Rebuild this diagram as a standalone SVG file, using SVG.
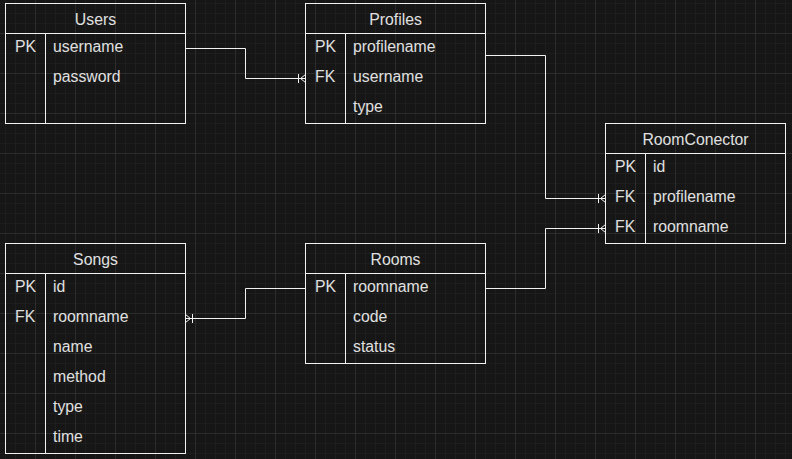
<svg xmlns="http://www.w3.org/2000/svg" width="792" height="459" viewBox="0 0 792 459">
<defs>
<pattern id="grid" x="35" y="33" width="40" height="40" patternUnits="userSpaceOnUse">
<path d="M10.5 0V40M20.5 0V40M30.5 0V40M0 10.5H40M0 20.5H40M0 30.5H40" stroke="#1e1e1e" stroke-width="1" fill="none"/>
<path d="M0.5 0V40M0 0.5H40" stroke="#2c2c2c" stroke-width="1" fill="none"/>
</pattern>
<marker id="many" viewBox="0 0 10 12" markerWidth="10" markerHeight="12" refX="10" refY="6" orient="auto" markerUnits="userSpaceOnUse" overflow="visible">
<path d="M3 1.5V10.5M5 6L10 2M5 6L10 10M5 6H10" stroke="#f2f2f2" stroke-width="1" fill="none"/>
</marker>
<style>
.box{fill:none;stroke:#f2f2f2;stroke-width:1}
.t{font-family:"Liberation Sans",Arial,sans-serif;font-size:15.8px;fill:#e0e0e0}
.c{text-anchor:middle}
.edge{fill:none;stroke:#f2f2f2;stroke-width:1;marker-end:url(#many)}
</style>
</defs>
<rect width="792" height="459" fill="#161616"/>
<rect width="792" height="459" fill="url(#grid)"/>

<g id="connectors">
<path class="edge" d="M185.5 48.5H245.5V78.5H305.5"/>
<path class="edge" d="M485.5 55.5H545.5V198.5H605.5"/>
<path class="edge" d="M485.5 288.5H545.5V228.5H605.5"/>
<path class="edge" d="M305.5 288.5H245.5V318.5H185.5"/>
</g>

<g id="users">
<rect class="box" x="5.5" y="3.5" width="180" height="120"/>
<path class="box" d="M5.5 33.5H185.5M45.5 33.5V123.5"/>
<text class="t c" x="95.5" y="25">Users</text>
<text class="t" x="15" y="51.8">PK</text>
<text class="t" x="53" y="51.8">username</text>
<text class="t" x="53" y="81.8">password</text>
</g>

<g id="profiles">
<rect class="box" x="305.5" y="3.5" width="180" height="120"/>
<path class="box" d="M305.5 33.5H485.5M345.5 33.5V123.5"/>
<text class="t c" x="395.5" y="25">Profiles</text>
<text class="t" x="315" y="51.8">PK</text>
<text class="t" x="353" y="51.8">profilename</text>
<text class="t" x="315" y="81.8">FK</text>
<text class="t" x="353" y="81.8">username</text>
<text class="t" x="353" y="111.8">type</text>
</g>

<g id="roomconector">
<rect class="box" x="605.5" y="123.5" width="180" height="120"/>
<path class="box" d="M605.5 153.5H785.5M645.5 153.5V243.5"/>
<text class="t c" x="695.5" y="145">RoomConector</text>
<text class="t" x="615" y="171.8">PK</text>
<text class="t" x="653" y="171.8">id</text>
<text class="t" x="615" y="201.8">FK</text>
<text class="t" x="653" y="201.8">profilename</text>
<text class="t" x="615" y="231.8">FK</text>
<text class="t" x="653" y="231.8">roomname</text>
</g>

<g id="songs">
<rect class="box" x="5.5" y="243.5" width="180" height="210"/>
<path class="box" d="M5.5 273.5H185.5M45.5 273.5V453.5"/>
<text class="t c" x="95.5" y="265">Songs</text>
<text class="t" x="15" y="291.8">PK</text>
<text class="t" x="53" y="291.8">id</text>
<text class="t" x="15" y="321.8">FK</text>
<text class="t" x="53" y="321.8">roomname</text>
<text class="t" x="53" y="351.8">name</text>
<text class="t" x="53" y="381.8">method</text>
<text class="t" x="53" y="411.8">type</text>
<text class="t" x="53" y="441.8">time</text>
</g>

<g id="rooms">
<rect class="box" x="305.5" y="243.5" width="180" height="120"/>
<path class="box" d="M305.5 273.5H485.5M345.5 273.5V363.5"/>
<text class="t c" x="395.5" y="265">Rooms</text>
<text class="t" x="315" y="291.8">PK</text>
<text class="t" x="353" y="291.8">roomname</text>
<text class="t" x="353" y="321.8">code</text>
<text class="t" x="353" y="351.8">status</text>
</g>
</svg>
